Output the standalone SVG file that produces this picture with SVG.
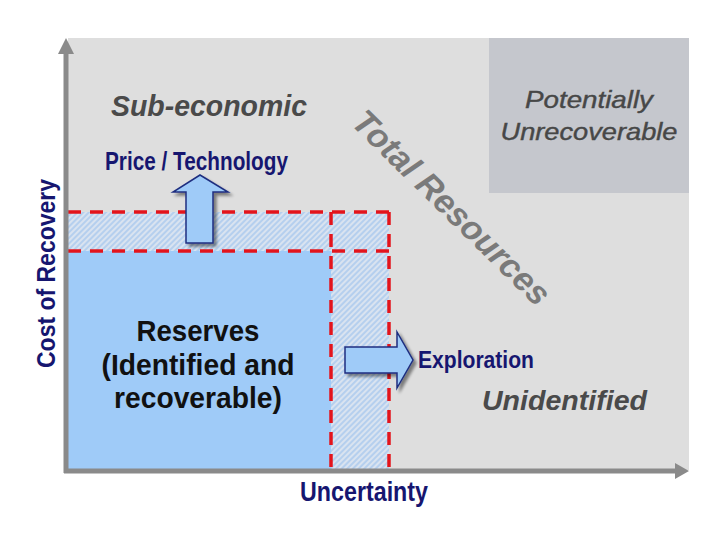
<svg xmlns="http://www.w3.org/2000/svg" width="720" height="540" viewBox="0 0 720 540">
<defs>
<pattern id="hatch" width="4" height="4" patternUnits="userSpaceOnUse" patternTransform="rotate(45)">
<rect width="4" height="4" fill="#d9e3f0"/>
<line x1="1" y1="0" x2="1" y2="4" stroke="#a9c9ee" stroke-width="1.5"/>
</pattern>
<filter id="sh" x="-20%" y="-20%" width="150%" height="150%">
<feGaussianBlur in="SourceAlpha" stdDeviation="1.5"/>
<feOffset dx="3" dy="3" result="o"/>
<feComponentTransfer><feFuncA type="linear" slope="0.45"/></feComponentTransfer>
<feMerge><feMergeNode/><feMergeNode in="SourceGraphic"/></feMerge>
</filter>
</defs>
<style>
.dash{stroke:#e3141c;stroke-width:3.5;stroke-dasharray:13 9;fill:none}
.axis{stroke:#8a8a8a;stroke-width:5;fill:none}
.arr{fill:#9fcbf8;stroke:#1f2f80;stroke-width:1.5;filter:url(#sh)}
.navy{font-family:"Liberation Sans",Arial,sans-serif;font-weight:bold;fill:#161670}
.gray{font-family:"Liberation Sans",Arial,sans-serif;font-style:italic;font-weight:bold;fill:#4a4a4a}
.blk{font-family:"Liberation Sans",Arial,sans-serif;font-weight:bold;fill:#111;font-size:29px}
</style>
<rect width="720" height="540" fill="#ffffff"/>
<g id="background">
<rect x="68" y="38" width="621" height="432" fill="#dedede"/>
</g>
<g id="potentially-unrecoverable">
<rect x="489" y="38" width="200" height="155" fill="#c5c7cd"/>
<text x="589" y="108" text-anchor="middle" font-family="Liberation Sans, Arial, sans-serif" font-style="italic" font-size="24" fill="#474747" stroke="#474747" stroke-width="0.4" textLength="128" lengthAdjust="spacingAndGlyphs">Potentially</text>
<text x="589" y="140" text-anchor="middle" font-family="Liberation Sans, Arial, sans-serif" font-style="italic" font-size="24" fill="#474747" stroke="#474747" stroke-width="0.4" textLength="177" lengthAdjust="spacingAndGlyphs">Unrecoverable</text>
</g>
<g id="hatched-bands">
<rect x="68" y="212" width="321" height="39" fill="url(#hatch)"/>
<rect x="331" y="212" width="58" height="258" fill="url(#hatch)"/>
</g>
<g id="reserves">
<rect x="68" y="251" width="263" height="219" fill="#9fcbf8"/>
<text class="blk" x="198" y="341" text-anchor="middle" textLength="123" lengthAdjust="spacingAndGlyphs">Reserves</text>
<text class="blk" x="198" y="375" text-anchor="middle" textLength="193" lengthAdjust="spacingAndGlyphs">(Identified and</text>
<text class="blk" x="198" y="408" text-anchor="middle" textLength="168" lengthAdjust="spacingAndGlyphs">recoverable)</text>
</g>
<g id="boundaries">
<line class="dash" x1="68" y1="212" x2="389" y2="212"/>
<line class="dash" x1="68" y1="251" x2="389" y2="251"/>
<line class="dash" x1="331" y1="212" x2="331" y2="470"/>
<line class="dash" x1="389" y1="212" x2="389" y2="470"/>
</g>
<g id="axes">
<line class="axis" x1="66" y1="473" x2="66" y2="52"/>
<polygon points="58,54 66,38 74,54" fill="#8a8a8a"/>
<line class="axis" x1="64" y1="471" x2="677" y2="471"/>
<polygon points="675,463 689,471 675,479" fill="#8a8a8a"/>
</g>
<g id="sub-economic">
<text class="gray" x="111" y="116" font-size="29" textLength="196" lengthAdjust="spacingAndGlyphs">Sub-economic</text>
</g>
<g id="total-resources">
<text class="gray" transform="translate(350,124) rotate(44.5)" x="0" y="0" font-size="34" style="fill:#7a7a7a" textLength="262" lengthAdjust="spacingAndGlyphs">Total Resources</text>
</g>
<g id="unidentified">
<text class="gray" x="482" y="410" font-size="27" textLength="165" lengthAdjust="spacingAndGlyphs">Unidentified</text>
</g>
<g id="price-technology">
<polygon class="arr" points="200,175 228,192 213,192 213,243 186,243 186,192 173,192"/>
<text class="navy" x="105" y="170" font-size="25" textLength="183" lengthAdjust="spacingAndGlyphs">Price / Technology</text>
</g>
<g id="exploration">
<polygon class="arr" points="345,347 397,347 397,332 413,360 397,388 397,373 345,373"/>
<text class="navy" x="418" y="368" font-size="24" textLength="116" lengthAdjust="spacingAndGlyphs">Exploration</text>
</g>
<g id="axis-labels">
<text class="navy" x="300" y="501" font-size="27" textLength="128" lengthAdjust="spacingAndGlyphs">Uncertainty</text>
<text class="navy" transform="translate(55,368) rotate(-90)" x="0" y="0" font-size="26" textLength="189" lengthAdjust="spacingAndGlyphs">Cost of Recovery</text>
</g>
</svg>
